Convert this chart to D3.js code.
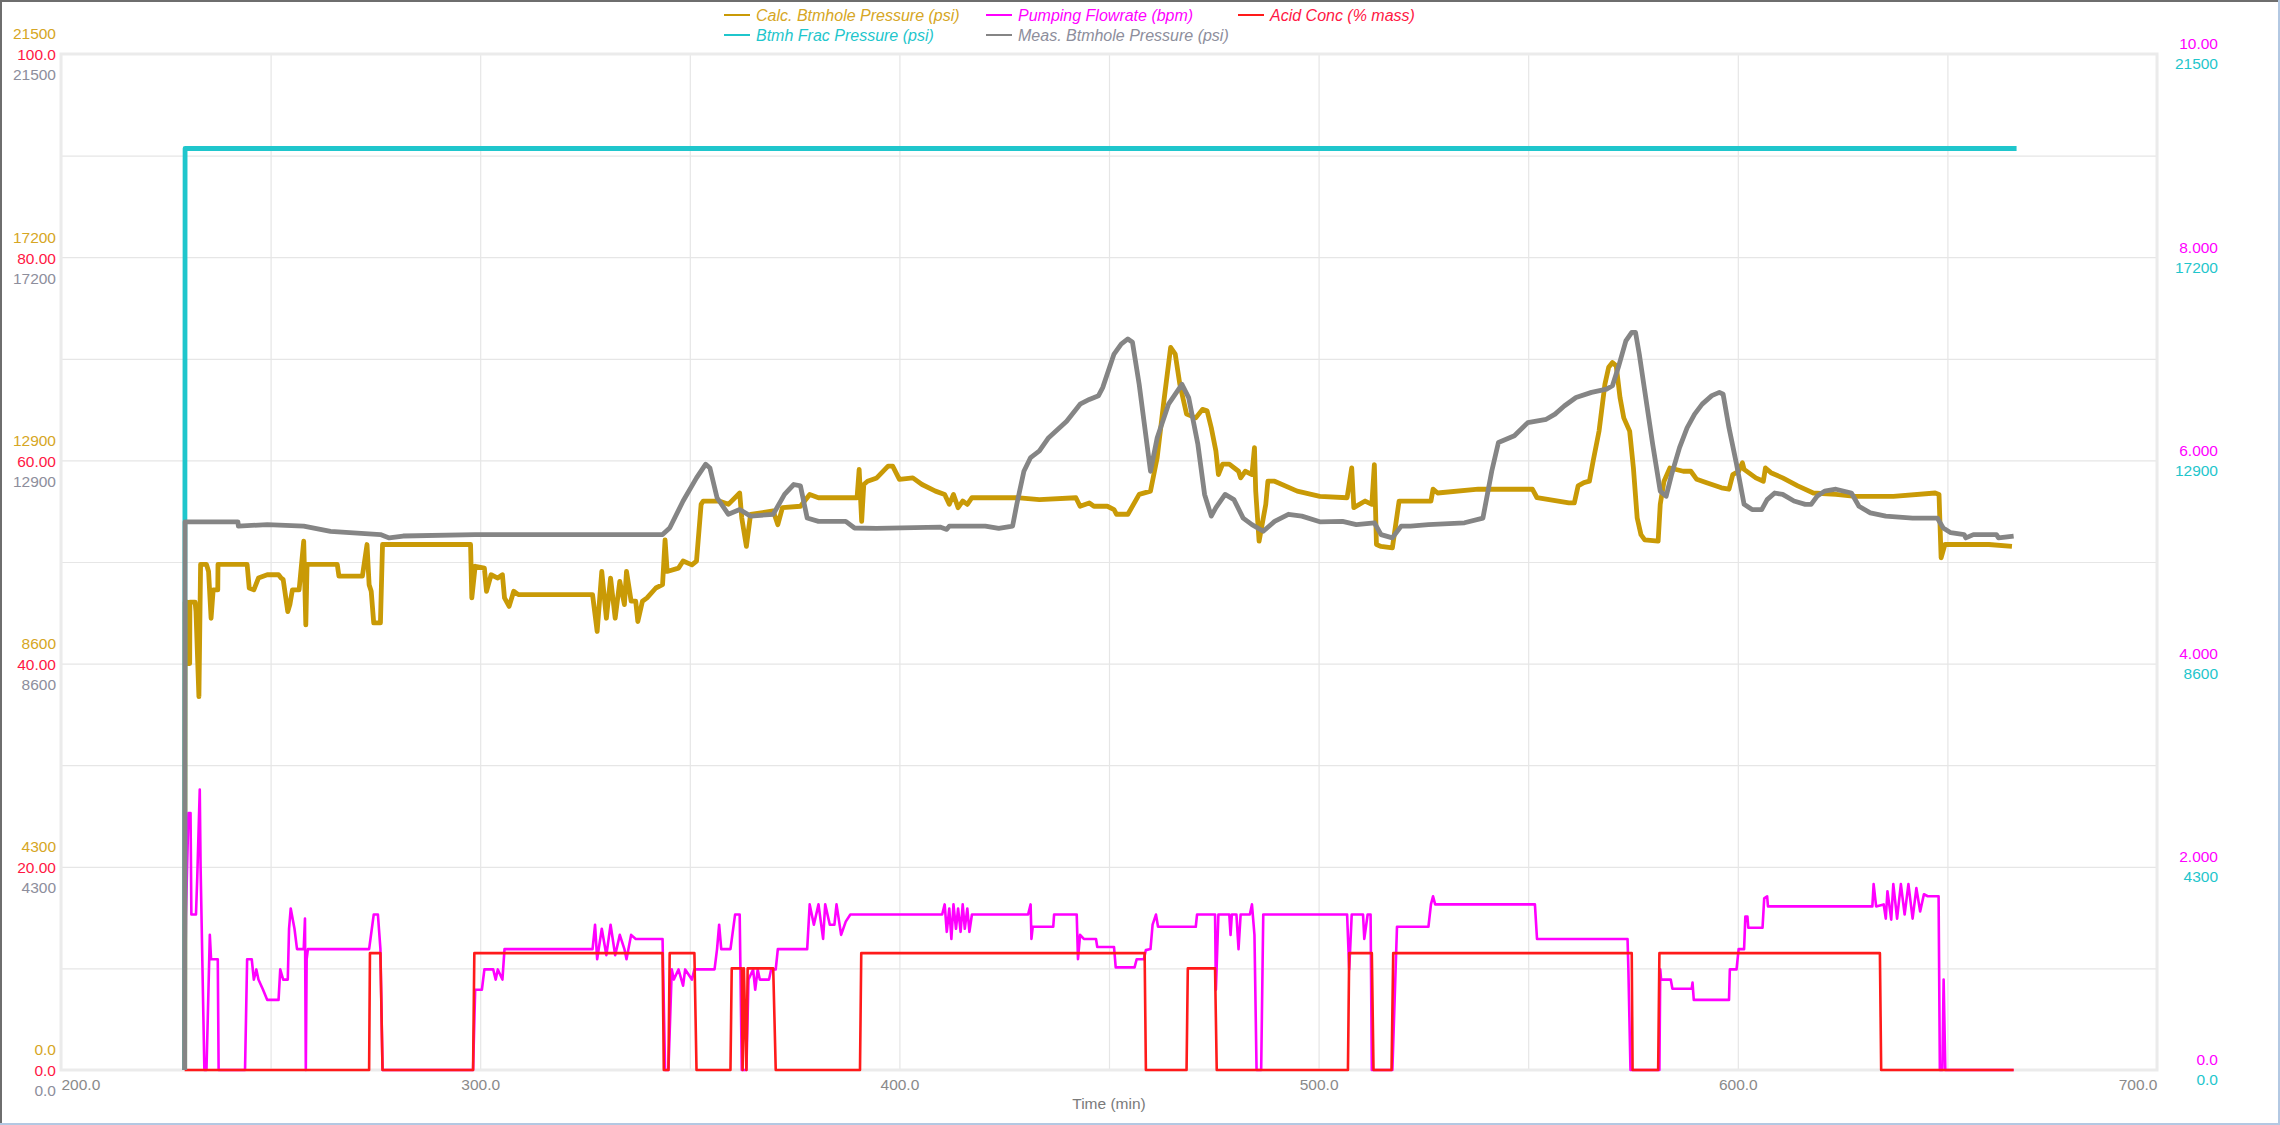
<!DOCTYPE html>
<html><head><meta charset="utf-8">
<script src="https://cdn.jsdelivr.net/npm/d3@7"></script>
<style>
html,body{margin:0;padding:0;background:#fff;}
svg{display:block;font-family:"Liberation Sans",Arial,sans-serif;}
</style></head>
<body><svg id="c" width="2280" height="1125"></svg>
<script>
// ---------- DATA ----------
const xTicks = [200, 300, 400, 500, 600, 700];
const xGrid = [200, 250, 300, 350, 400, 450, 500, 550, 600, 650, 700];
const psiTicks = [0, 4300, 8600, 12900, 17200, 21500];
const psiGrid = [0, 2150, 4300, 6450, 8600, 10750, 12900, 15050, 17200, 19350, 21500];
const acidTicks = [0, 20, 40, 60, 80, 100];
const flowTicks = [0, 2, 4, 6, 8, 10];

const seriesNames = ["Calc. Btmhole Pressure (psi)", "Pumping Flowrate (bpm)", "Acid Conc (% mass)", "Btmh Frac Pressure (psi)", "Meas. Btmhole Pressure (psi)"];

const calcTime = [229.5,229.6,230.1,230.15,230.7,230.75,232.0,232.2,232.9,233.3,234.7,235.2,235.8,236.3,237.4,237.45,244.4,244.9,246.0,247.1,249.2,251.9,252.5,253.0,254.1,254.6,255.2,256.8,257.9,258.4,258.7,265.9,266.3,271.9,273.0,273.5,274.0,274.6,276.2,276.7,297.7,298.0,298.8,301.0,301.5,302.6,304.2,305.3,305.8,306.9,308.0,309.1,326.8,327.9,329.0,330.1,331.1,332.2,333.3,334.4,334.9,336.0,337.1,337.6,338.7,339.8,341.9,343.5,344.1,344.6,347.3,348.4,350.5,351.6,352.7,353.2,357.0,359.2,361.9,362.4,363.5,364.5,369.9,371.0,372.1,376.4,378.6,380.7,387.2,389.9,390.4,391.0,391.5,392.4,394.6,397.3,398.4,400.0,403.2,405.4,408.6,410.8,411.9,412.9,414.0,415.1,416.2,417.3,428.0,433.4,442.1,443.1,445.3,446.4,449.6,451.2,451.8,454.5,457.2,459.9,461.5,463.1,464.7,465.8,466.9,468.5,470.7,472.3,473.4,474.4,475.5,476.1,477.1,478.7,480.9,481.4,482.5,484.1,484.7,485.0,485.8,487.4,487.9,489.5,494.9,500.3,506.8,507.9,508.4,511.1,512.7,513.3,513.8,514.9,517.6,519.2,526.8,527.3,528.4,538.1,551.0,552.1,559.7,561.0,561.9,563.3,564.6,565.5,566.9,568.3,569.2,570.1,571.0,571.9,572.8,574.2,575.1,576.0,576.9,577.8,581.0,581.5,582.4,583.8,587.0,588.8,590.2,592.4,596.1,597.9,598.8,600.2,601.1,601.5,604.3,606.1,606.6,607.9,610.7,614.3,618.0,623.4,628.0,637.1,647.1,648.0,648.5,649.4,650.3,659.9,665.4];
const calcPsi = [0,9900,9900,8600,8600,9900,9900,9700,7900,10700,10700,10550,9560,10160,10160,10700,10700,10200,10160,10410,10480,10480,10410,10380,9700,9850,10160,10160,11190,9420,10700,10700,10450,10450,11120,10270,10130,9460,9460,11120,11120,9990,10660,10620,10130,10480,10410,10480,9990,9810,10130,10060,10060,9280,10550,9560,10410,9560,10340,9850,10550,9920,9920,9490,9920,9990,10200,10270,11220,10550,10620,10770,10690,10770,11970,12040,12040,11970,12210,11680,11080,11760,11830,11540,11900,11930,12180,12110,12110,12110,12710,11610,12390,12460,12530,12780,12780,12500,12530,12390,12250,12180,11970,12180,11900,12040,11970,12110,12110,12070,12110,11930,12000,11930,11930,11860,11760,11760,12180,12250,12960,14160,15290,15150,14510,13880,13800,13980,13950,13590,13100,12600,12820,12820,12670,12530,12670,12600,13170,12250,11190,11970,12460,12460,12250,12140,12110,12740,11900,12040,11970,12810,11120,11080,11050,12040,12040,12290,12210,12290,12290,12110,12000,12000,12360,12430,12460,12890,13520,14510,14870,14970,14900,14230,13800,13520,12740,11680,11330,11220,11190,11970,12460,12740,12670,12670,12500,12430,12320,12290,12600,12670,12850,12710,12530,12460,12740,12640,12530,12360,12210,12180,12140,12140,12210,12180,10840,11120,11120,11120,11080];

const measTime = [229.5,229.6,242.2,242.3,249.2,257.9,264.3,276.2,278.3,281.6,298.8,333.3,343.5,345.2,348.4,351.6,353.8,354.8,356.5,359.2,361.9,364.5,369.9,372.6,374.8,376.4,378.0,380.7,387.2,389.3,394.5,409.7,411.3,411.9,420.5,423.7,427.0,428.0,429.7,431.3,433.4,435.6,439.9,443.1,445.3,447.5,448.5,451.2,452.9,454.5,455.6,457.2,459.9,461.5,464.2,467.4,469.0,471.2,472.8,474.4,475.5,477.7,479.8,482.0,484.1,486.8,489.5,492.8,496.0,500.3,505.7,509.0,513.3,514.9,517.6,519.7,521.9,526.2,534.8,539.2,541.3,542.9,546.7,549.9,554.3,556.4,558.6,561.4,565.1,568.7,570.1,571.5,573.3,574.7,575.6,576.5,577.8,579.7,581.5,582.9,584.2,586.1,587.9,589.7,591.5,593.8,595.6,596.5,597.9,599.7,601.5,603.4,605.7,607.0,608.8,610.7,613.4,616.1,617.5,618.9,620.7,623.4,627.1,628.9,631.6,635.3,641.7,647.6,649.0,650.8,654.0,654.4,656.2,661.7,662.2,665.8];
const measPsi = [0,11600,11600,11510,11540,11510,11400,11330,11260,11300,11330,11330,11330,11470,12040,12530,12820,12740,12110,11760,11860,11720,11760,12180,12390,12360,11680,11610,11610,11470,11460,11490,11440,11510,11510,11460,11510,11970,12670,12960,13100,13380,13730,14090,14190,14270,14440,15150,15360,15470,15400,14510,12670,13380,14090,14510,14230,13240,12180,11720,11900,12180,12070,11680,11540,11400,11610,11760,11720,11600,11610,11540,11580,11330,11260,11510,11510,11540,11580,11680,12670,13280,13420,13700,13770,13880,14050,14230,14340,14410,14480,14870,15430,15610,15610,15150,14370,13240,12250,12140,12600,13170,13590,13880,14090,14270,14340,14300,13590,12820,11970,11860,11860,12070,12210,12180,12040,11970,11970,12140,12250,12290,12210,11930,11790,11720,11680,11680,11470,11370,11330,11260,11330,11330,11260,11300];

const fracTime = [229.5, 229.6, 666.5];
const fracPsi = [0, 19500, 19500];

const flowTime = [229.5,229.8,230.4,230.9,231.1,232.2,232.5,233.1,233.3,234.2,234.7,235.0,235.5,235.8,237.4,237.6,243.9,244.4,245.5,246.0,246.6,247.1,248.2,249.2,251.9,252.3,253.0,254.1,254.4,254.8,255.7,256.3,257.9,258.2,258.4,258.6,258.9,273.5,274.6,275.6,276.2,276.7,298.3,298.8,300.4,301.0,303.1,303.7,304.2,305.3,305.8,308.5,326.8,327.4,327.9,329.0,330.1,331.1,332.2,333.3,334.4,334.9,336.0,337.1,343.5,344.1,344.9,345.7,346.2,347.3,348.4,348.9,350.5,351.1,355.9,356.5,357.0,357.5,359.7,360.8,361.9,362.4,363.5,364.0,365.1,365.6,366.2,366.7,368.9,369.4,370.5,371.0,378.0,378.6,379.6,380.7,381.8,382.3,383.4,384.5,385.0,386.1,387.2,388.3,410.2,410.8,411.3,411.9,412.4,412.9,413.5,414.0,414.6,415.1,415.6,416.2,416.7,417.3,430.7,431.3,431.5,431.8,436.7,436.9,442.3,442.6,443.1,444.0,446.9,447.2,451.2,451.6,456.1,456.6,458.3,458.8,459.9,460.4,461.2,461.7,470.7,471.0,475.3,475.5,476.1,478.7,479.0,479.3,480.4,480.9,481.4,483.6,484.1,484.7,485.2,486.3,486.8,506.8,507.3,507.9,510.6,510.9,511.7,512.4,512.7,517.6,518.7,526.2,526.8,527.3,527.8,551.6,552.1,573.7,573.9,574.4,581.3,581.5,581.7,584.0,584.4,589.0,589.2,589.5,597.9,598.1,599.7,600.2,601.5,601.8,602.3,602.5,605.9,606.3,607.0,607.2,632.1,632.4,633.0,634.8,635.3,635.7,636.6,637.1,638.0,638.9,639.8,640.7,641.7,642.6,643.5,644.4,645.3,647.9,648.2,648.8,649.1,649.5,665.8];
const flowBpm = [0,1.53,2.53,2.53,1.53,1.53,1.89,2.76,2.0,0,0,0.49,1.33,1.09,1.09,0,0,1.09,1.09,0.89,0.99,0.89,0.79,0.69,0.69,0.99,0.89,0.89,1.39,1.59,1.39,1.19,1.19,1.49,0,1.09,1.19,1.19,1.53,1.53,1.19,0,0,0.79,0.79,0.99,0.99,0.89,0.99,0.89,1.19,1.19,1.19,1.43,1.09,1.39,1.13,1.43,1.13,1.33,1.19,1.09,1.33,1.29,1.29,0,0,0.99,0.89,0.99,0.83,0.99,0.89,0.99,0.99,1.19,1.43,1.19,1.19,1.53,1.53,0,0,0.89,0.99,0.79,0.99,0.89,0.89,0.99,0.99,1.19,1.19,1.63,1.43,1.63,1.29,1.63,1.43,1.43,1.63,1.33,1.46,1.53,1.53,1.63,1.36,1.59,1.29,1.63,1.39,1.59,1.36,1.63,1.39,1.59,1.36,1.53,1.53,1.63,1.29,1.41,1.41,1.53,1.53,1.09,1.33,1.29,1.29,1.21,1.21,1.01,1.01,1.09,1.09,1.18,1.19,1.43,1.53,1.41,1.41,1.53,1.53,0.79,1.53,1.53,1.33,1.53,1.53,1.19,1.53,1.53,1.63,1.33,0,0,1.53,1.53,0.99,1.53,1.53,1.29,1.53,1.53,0,0,1.41,1.41,1.63,1.71,1.63,1.63,1.29,1.29,0.99,0,0,0.99,0.89,0.89,0.80,0.80,0.86,0.69,0.69,0.99,0.99,1.19,1.19,1.51,1.51,1.40,1.40,1.69,1.71,1.61,1.61,1.83,1.61,1.63,1.49,1.76,1.48,1.83,1.49,1.83,1.53,1.83,1.49,1.79,1.56,1.73,1.71,1.71,0,0,0.89,0,0];

const acidTime = [229.5,273.5,273.7,276.2,276.7,298.3,298.6,343.5,343.8,344.9,345.2,351.1,351.6,359.7,360.0,362.4,362.6,362.9,363.5,363.8,369.9,370.5,390.6,390.9,458.5,458.8,468.5,468.8,475.3,475.7,507.0,507.3,512.7,513.1,517.4,517.8,574.7,574.9,581.0,581.3,633.9,634.2,665.8];
const acidPct = [0,0,11.5,11.5,0,0,11.5,11.5,0,0,11.5,11.5,0,0,10,10,0,10,0,10,10,0,0,11.5,11.5,0,0,10,10,0,0,11.5,11.5,0,0,11.5,11.5,0,0,11.5,11.5,0,0];

// ---------- LAYOUT ----------
const W = 2280, H = 1125;
const L = 61, R = 2157, T = 54, B = 1070;
const FS = 15.5;
const C = {
  calc: "#c99a06", calcTxt: "#d6a624",
  flow: "#ff00ff", acid: "#ff1a1a", acidTxt: "#ff1744",
  frac: "#1fc6cc", meas: "#858585", measTxt: "#8d8e9c"
};

const svg = d3.select("#c");
const x = d3.scaleLinear().domain([200, 700]).range([L, R]);
const yP = d3.scaleLinear().domain([0, 21500]).range([B, T]);
const yA = d3.scaleLinear().domain([0, 100]).range([B, T]);
const yF = d3.scaleLinear().domain([0, 10]).range([B, T]);

// outer frame
svg.append("rect").attr("x",0).attr("y",0).attr("width",W).attr("height",H).attr("fill","#fff");
svg.append("line").attr("x1",1).attr("y1",0).attr("x2",1).attr("y2",H).attr("stroke","#6e6e6e").attr("stroke-width",2);
svg.append("line").attr("x1",0).attr("y1",1).attr("x2",W).attr("y2",1).attr("stroke","#6e6e6e").attr("stroke-width",2);
svg.append("line").attr("x1",W-1).attr("y1",0).attr("x2",W-1).attr("y2",H).attr("stroke","#b3c8e2").attr("stroke-width",2);
svg.append("line").attr("x1",0).attr("y1",H-1).attr("x2",W).attr("y2",H-1).attr("stroke","#b3c8e2").attr("stroke-width",2);

// grid
const gy = svg.append("g").attr("transform",`translate(${L},0)`)
  .call(d3.axisLeft(yP).tickValues(psiGrid).tickSize(-(R-L)).tickFormat(""));
gy.select(".domain").remove();
gy.selectAll("line").attr("stroke","#e6e6e6").attr("stroke-width",1.2);
const gx = svg.append("g").attr("transform",`translate(0,${B})`)
  .call(d3.axisBottom(x).tickValues(xGrid).tickSize(-(B-T)).tickFormat(""));
gx.select(".domain").remove();
gx.selectAll("line").attr("stroke","#e6e6e6").attr("stroke-width",1.2);
svg.append("rect").attr("x",L).attr("y",T).attr("width",R-L).attr("height",B-T)
  .attr("fill","none").attr("stroke","#ebebeb").attr("stroke-width",3);

// axes labels
function leftAxis(scale, vals, fmt, color, dy) {
  const g = svg.append("g").attr("transform",`translate(${L},0)`)
    .call(d3.axisLeft(scale).tickValues(vals).tickSize(0).tickPadding(5).tickFormat(fmt));
  g.select(".domain").remove();
  g.selectAll("text").attr("fill",color).attr("font-size",FS)
    .attr("font-family","'Liberation Sans',Arial,sans-serif").attr("dy",(dy/FS+0.32)+"em");
}
function rightAxis(scale, vals, fmt, color, dy) {
  const g = svg.append("g").attr("transform",`translate(${R},0)`)
    .call(d3.axisRight(scale).tickValues(vals).tickSize(0).tickFormat(fmt));
  g.select(".domain").remove();
  g.selectAll("text").attr("fill",color).attr("font-size",FS).attr("x",61).attr("text-anchor","end")
    .attr("font-family","'Liberation Sans',Arial,sans-serif").attr("dy",(dy/FS+0.32)+"em");
}
const fmtPsi = v => v === 0 ? "0.0" : d3.format("d")(v);
const fmt4 = v => v === 0 ? "0.0" : (v >= 100 ? d3.format(".1f")(v) : d3.format(".4r")(v));
leftAxis(yP, psiTicks, fmtPsi, C.calcTxt, -20);
leftAxis(yA, acidTicks, fmt4, C.acidTxt, 1);
leftAxis(yP, psiTicks, fmtPsi, C.measTxt, 21);
rightAxis(yF, flowTicks, fmt4, C.flow, -10);
rightAxis(yP, psiTicks, fmtPsi, C.frac, 10);

const ax = svg.append("g").attr("transform",`translate(0,${B})`)
  .call(d3.axisBottom(x).tickValues(xTicks).tickSize(0).tickPadding(9).tickFormat(d3.format(".1f")));
ax.select(".domain").remove();
ax.selectAll("text").attr("fill","#8a8a8a").attr("font-size",FS)
  .attr("font-family","'Liberation Sans',Arial,sans-serif")
  .attr("text-anchor", d => d === 200 ? "start" : d === 700 ? "end" : "middle");
svg.append("text").attr("x",(L+R)/2).attr("y",1109).attr("text-anchor","middle")
  .attr("fill","#7a7a7a").attr("font-size",FS).text("Time (min)");

// lines
function zip(t, v) { return t.map((d, i) => [d, v[i]]); }
function draw(data, ys, color, w) {
  svg.append("path").datum(data)
    .attr("d", d3.line().x(d => x(d[0])).y(d => ys(d[1])))
    .attr("fill","none").attr("stroke",color).attr("stroke-width",w)
    .attr("stroke-linejoin","round").attr("stroke-linecap","butt");
}
draw(zip(calcTime, calcPsi), yP, C.calc, 4.8);
draw(zip(flowTime, flowBpm), yF, C.flow, 2.6);
draw(zip(acidTime, acidPct), yA, C.acid, 2.6);
draw(zip(fracTime, fracPsi), yP, C.frac, 4.8);
draw(zip(measTime, measPsi), yP, C.meas, 4.8);

// legend
const legend = [
  {name: seriesNames[0], color: C.calc, txt: C.calcTxt, x: 724, y: 15},
  {name: seriesNames[1], color: C.flow, txt: C.flow, x: 986, y: 15},
  {name: seriesNames[2], color: C.acid, txt: C.acidTxt, x: 1238, y: 15},
  {name: seriesNames[3], color: C.frac, txt: C.frac, x: 724, y: 35},
  {name: seriesNames[4], color: C.meas, txt: C.measTxt, x: 986, y: 35}
];
const lg = svg.append("g").selectAll("g").data(legend).join("g")
  .attr("transform", d => `translate(${d.x},${d.y})`);
lg.append("line").attr("x1",0).attr("x2",26).attr("y1",0).attr("y2",0)
  .attr("stroke", d => d.color).attr("stroke-width",2);
lg.append("text").attr("x",32).attr("y",0).attr("dy","0.35em")
  .attr("font-size",16).attr("font-style","italic").attr("fill", d => d.txt).text(d => d.name);
</script></body></html>
